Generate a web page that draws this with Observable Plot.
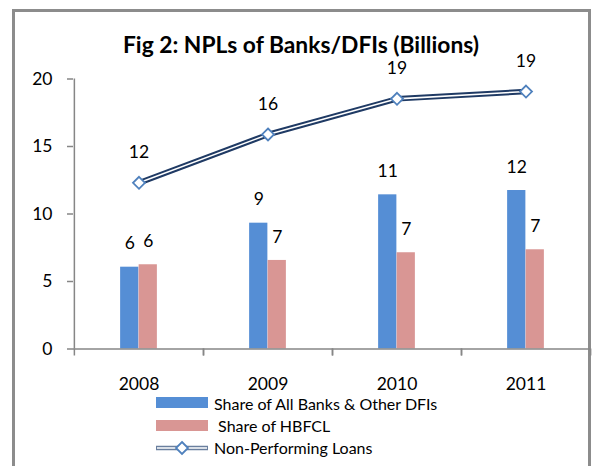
<!DOCTYPE html>
<html>
<head>
<meta charset="utf-8">
<script src="https://cdn.jsdelivr.net/npm/d3@7"></script>
<script src="https://cdn.jsdelivr.net/npm/@observablehq/plot@0.6"></script>
<style>
  html, body { margin: 0; padding: 0; background: #fff; }
  #wrap { position: relative; width: 592px; height: 466px; overflow: hidden; font-family: Lato, "Open Sans", sans-serif; }
  #frame { position: absolute; left: 12px; top: 9px; width: 579px; height: 480px; box-sizing: border-box; border: 3px solid #8c8c8c; }
  #title { position: absolute; left: 0; top: 33px; width: 602px; text-align: center; font-weight: bold; font-size: 22.8px; color: #000; line-height: 1; }
  #chart { position: absolute; left: 0; top: 0; }
  #legend { position: absolute; left: 0; top: 0; }
</style>
</head>
<body>
<div id="wrap">
  <div id="frame"></div>
  <div id="chart"></div>
  <div id="title">Fig 2: NPLs of Banks/DFIs (Billions)</div>
  <svg id="legend" width="592" height="466"></svg>
</div>
<script>
const years = ["2008", "2009", "2010", "2011"];
const banks = [6.06, 9.32, 11.42, 11.74];
const hbfcl = [6.24, 6.56, 7.13, 7.35];
const npl = [12.31, 15.89, 18.53, 19.07];
const seriesNames = ["Share of All Banks & Other DFIs", " Share of HBFCL", "Non-Performing Loans"];
const yTicks = [0, 5, 10, 15, 20];

const blue = "#558ed5", pink = "#d99694", navy = "#1f3a64", marker = "#4f81bd", axisGray = "#868686";

const bankRows = years.map((y, i) => ({year: y, value: banks[i]}));
const hbRows = years.map((y, i) => ({year: y, value: hbfcl[i]}));
const nplRows = years.map((y, i) => ({year: y, value: npl[i]}));

const half = 129.25 / 2, barW = 18.5;
const fmt = d => String(Math.round(d.value));

const chart = Plot.plot({
  width: 592,
  height: 400,
  marginLeft: 73,
  marginRight: 2,
  marginTop: 78.5,
  marginBottom: 51.5,
  style: {fontFamily: "Lato, 'Open Sans', sans-serif", fontSize: "17.5px", background: "transparent", color: "#000"},
  x: {type: "band", domain: years, padding: 0},
  y: {domain: [0, 20]},
  marks: [
    Plot.barY(bankRows, {x: "year", y: "value", fill: blue, insetLeft: half - barW, insetRight: half}),
    Plot.barY(hbRows, {x: "year", y: "value", fill: pink, insetLeft: half, insetRight: half - barW}),
    Plot.ruleY([0], {stroke: axisGray, strokeWidth: 1.5}),
    Plot.ruleX([years[0]], {dx: -half, y1: 0, y2: 20, stroke: axisGray, strokeWidth: 1.5}),
    Plot.axisY({ticks: yTicks, tickSize: 6, tickPadding: 15, stroke: axisGray, strokeWidth: 1.5, label: null, fill: "#000"}),
    Plot.axisX({tickSize: 7, tickFormat: () => "", dx: -half, stroke: axisGray, strokeWidth: 1.5, label: null}),
    Plot.axisX({tickSize: 7, tickFormat: () => "", dx: half, stroke: axisGray, strokeWidth: 1.5, label: null}),
    Plot.axisX({tickSize: 0, tickPadding: 28.5, label: null, fill: "#000"}),
    Plot.line(nplRows, {x: "year", y: "value", stroke: navy, strokeWidth: 5.5}),
    Plot.line(nplRows, {x: "year", y: "value", stroke: "#fff", strokeWidth: 1.6}),
    Plot.dot(nplRows, {x: "year", y: "value", symbol: "diamond2", r: 5.4, stroke: marker, strokeWidth: 1.8, fill: "#fff"}),
    Plot.text(bankRows, {x: "year", y: "value", text: fmt, dx: -barW / 2, dy: -23.5, fill: "#000"}),
    Plot.text(hbRows, {x: "year", y: "value", text: fmt, dx: barW / 2, dy: -23.5, fill: "#000"}),
    Plot.text(nplRows, {x: "year", y: "value", text: fmt, dy: -30.5, fill: "#000"})
  ]
});
document.getElementById("chart").appendChild(chart);

// legend
const lg = d3.select("#legend");
const lx = 156, lw = 52, tx = 214;
const rowsY = [402.5, 425.5, 448];
const textY = [404, 426, 448];
lg.append("rect").attr("x", lx).attr("y", rowsY[0] - 5.5).attr("width", lw).attr("height", 11).attr("fill", blue);
lg.append("rect").attr("x", lx).attr("y", rowsY[1] - 5.5).attr("width", lw).attr("height", 11).attr("fill", pink);
lg.append("line").attr("x1", lx).attr("x2", lx + lw).attr("y1", rowsY[2]).attr("y2", rowsY[2]).attr("stroke", "#6a7f9e").attr("stroke-width", 4.5);
lg.append("line").attr("x1", lx + 1).attr("x2", lx + lw - 1).attr("y1", rowsY[2]).attr("y2", rowsY[2]).attr("stroke", "#fff").attr("stroke-width", 1.3);
lg.append("path").attr("d", d3.symbol(d3.symbolDiamond2, Math.PI * 5.4 * 5.4)()).attr("transform", `translate(${lx + lw / 2},${rowsY[2]})`)
  .attr("fill", "#fff").attr("stroke", marker).attr("stroke-width", 1.8);
seriesNames.forEach((n, i) => {
  lg.append("text").attr("x", tx).attr("y", textY[i]).attr("dy", "0.35em")
    .attr("font-family", "Lato, 'Open Sans', sans-serif").attr("font-size", "16px").attr("fill", "#000")
    .attr("xml:space", "preserve").style("white-space", "pre").text(n);
});
</script>
</body>
</html>
